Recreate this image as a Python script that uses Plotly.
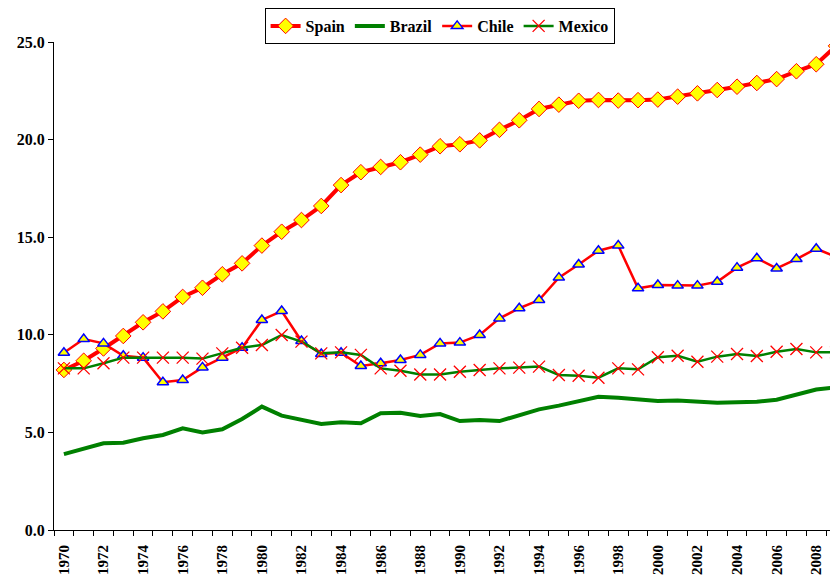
import plotly.graph_objects as go

years = list(range(1970, 2010))

spain = [8.2, 8.67, 9.3, 9.94, 10.64, 11.2, 11.94, 12.41, 13.1, 13.66,
         14.57, 15.28, 15.88, 16.6, 17.67, 18.33, 18.6, 18.84, 19.23, 19.66,
         19.76, 19.96, 20.5, 20.99, 21.57, 21.79, 21.99, 22.03, 22.0, 22.02,
         22.05, 22.2, 22.37, 22.54, 22.71, 22.9, 23.1, 23.5, 23.86, 24.8]

brazil = [3.89, 4.18, 4.44, 4.47, 4.7, 4.87, 5.21, 5.0, 5.16, 5.69,
          6.32, 5.86, 5.64, 5.43, 5.52, 5.47, 5.98, 6.01, 5.84, 5.94,
          5.58, 5.64, 5.58, 5.89, 6.18, 6.37, 6.62, 6.83, 6.78, 6.71,
          6.61, 6.64, 6.57, 6.52, 6.55, 6.57, 6.67, 6.92, 7.2, 7.31]

chile = [9.08, 9.78, 9.56, 8.93, 8.83, 7.57, 7.68, 8.33, 8.83, 9.34,
         10.76, 11.22, 9.68, 9.02, 9.08, 8.4, 8.54, 8.71, 8.97, 9.56,
         9.6, 9.99, 10.84, 11.36, 11.78, 12.93, 13.6, 14.31, 14.57, 12.38,
         12.55, 12.52, 12.52, 12.72, 13.44, 13.92, 13.4, 13.88, 14.41, 14.0]

mexico = [8.28, 8.28, 8.54, 8.83, 8.83, 8.83, 8.83, 8.78, 9.05, 9.34,
          9.48, 9.99, 9.65, 9.05, 9.1, 8.97, 8.28, 8.16, 7.97, 7.97,
          8.11, 8.2, 8.28, 8.32, 8.37, 7.94, 7.9, 7.8, 8.28, 8.23,
          8.85, 8.93, 8.62, 8.88, 9.02, 8.91, 9.13, 9.27, 9.1, 9.1]

x_labels = [str(y) for y in range(1970, 2010, 2)]
y_ticks = [0, 5, 10, 15, 20, 25]

FONT = "Liberation Serif, Times New Roman, serif"

fig = go.Figure()
fig.add_trace(go.Scatter(
    x=years, y=spain, name="Spain", mode="lines+markers",
    line=dict(color="#ff0000", width=4),
    marker=dict(symbol="diamond", size=12, color="#ffff00",
                line=dict(color="#ff0000", width=1)),
))
fig.add_trace(go.Scatter(
    x=years, y=brazil, name="Brazil", mode="lines",
    line=dict(color="#008000", width=4),
))
fig.add_trace(go.Scatter(
    x=years, y=chile, name="Chile", mode="lines+markers",
    line=dict(color="#ff0000", width=2.5),
    marker=dict(symbol="triangle-up", size=10, color="#ffff00",
                line=dict(color="#0000ff", width=1.5)),
))
fig.add_trace(go.Scatter(
    x=years, y=mexico, name="Mexico", mode="lines+markers",
    line=dict(color="#008000", width=2.5),
    marker=dict(symbol="x-thin", size=12, color="#ff0000",
                line=dict(color="#ff0000", width=1.3)),
))

fig.update_layout(
    width=830, height=567,
    margin=dict(l=46, r=0, t=34, b=45, autoexpand=False),
    paper_bgcolor="white", plot_bgcolor="white",
    font=dict(family=FONT, color="black"),
    showlegend=True,
    legend=dict(
        orientation="h", xref="container", yref="container",
        x=0.52, xanchor="center", y=1.0, yanchor="top",
        bordercolor="black", borderwidth=1, bgcolor="white",
        font=dict(family=FONT, size=16, weight="bold"),
        itemwidth=30, tracegroupgap=0,
    ),
    xaxis=dict(
        range=[1969.5, 2009.1], automargin=False,
        tickmode="array", tickvals=[int(s) for s in x_labels], ticktext=x_labels,
        tickangle=-90, ticks="", ticklen=0, ticklabelstandoff=8,
        tickfont=dict(family=FONT, size=15, weight="bold"),
        showgrid=False, zeroline=False,
        showline=True, linecolor="black", linewidth=1,
        minor=dict(tickmode="array", tickvals=[y - 0.5 for y in years] + [2009.5],
                   ticks="outside", ticklen=5, tickcolor="black", tickwidth=1),
    ),
    yaxis=dict(
        range=[0, 25], automargin=False,
        tickmode="array", tickvals=y_ticks, ticktext=[f"{v:.1f}" for v in y_ticks],
        ticks="outside", ticklen=5, tickcolor="black",
        tickfont=dict(family=FONT, size=16, weight="bold"),
        showgrid=False, zeroline=False,
        showline=True, linecolor="black", linewidth=1,
    ),
)

fig.write_html("out.html")
